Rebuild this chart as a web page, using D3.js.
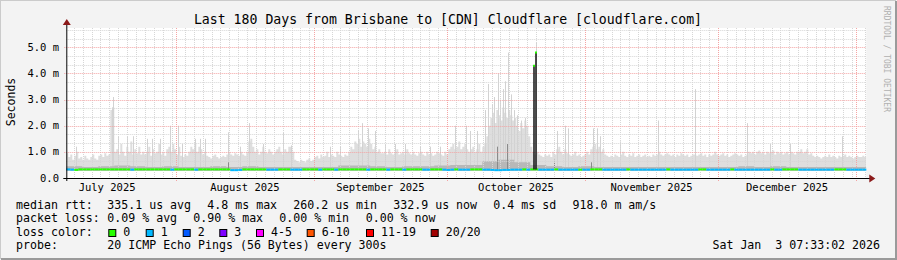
<!DOCTYPE html>
<html><head><meta charset="utf-8">
<script src="https://cdn.jsdelivr.net/npm/d3@7"></script>
<style>body{margin:0;background:#f3f3f3}text{font-family:"DejaVu Sans Mono",monospace;white-space:pre}</style>
</head><body><svg id="chart" width="897" height="260"></svg>
<script>
// ---------------- data ----------------
const title = "Last 180 Days from Brisbane to [CDN] Cloudflare [cloudflare.com]";
const startTime = "2025-07-07T07:33:02Z";   // Brisbane local time
const endTime   = "2026-01-03T07:33:02Z";
const yTicks = [0, 1, 2, 3, 4, 5];              // ms
const yTickLabels = ["0.0", "1.0 m", "2.0 m", "3.0 m", "4.0 m", "5.0 m"];
const yLabel = "Seconds";

// light smoke envelope (ms), 400 equal time bins
const smokeTop = [
 0.95,0.8,0.9,0.7,0.85,1.0,0.75,0.8,0.7,0.85,0.75,0.7,0.8,0.9,0.75,0.7,0.85,0.9,0.8,0.95,0.85,0.9,
 2.6,2.7,1.0,
 1.1,0.9,1.3,1.0,0.85,1.2,1.0,1.4,0.9,1.1,0.95,1.2,0.9,1.0,
 0.9,1.0,1.2,0.85,1.1,0.95,1.0,1.3,0.9,1.0,0.85,1.1,
 1.2,1.0,1.3,1.1,0.9,1.2,
 0.85,0.8,0.9,0.85,1.0,1.2,1.1,1.3,1.0,1.2,1.1,0.9,1.0,0.85,
 0.8,0.75,0.85,0.9,0.8,0.75,0.8,0.85,0.8,0.9,
 1.0,0.9,0.85,0.95,0.9,0.85,1.0,0.9,0.85,1.0,
 1.4,1.5,1.2,
 1.0,1.1,0.9,1.0,1.2,1.0,0.95,1.1,1.0,0.9,1.0,1.1,1.2,1.0,0.9,1.1,1.0,1.2,
 1.2,1.0,0.7,0.65,0.6,0.7,0.65,0.6,0.7,0.75,0.65,0.7,
 0.8,0.85,0.75,0.9,0.8,0.85,1.0,0.8,0.9,0.85,0.8,1.0,0.9,0.85,0.8,0.9,0.85,
 1.0,1.2,1.1,1.4,1.3,1.5,1.2,1.4,1.3,1.2,1.5,1.3,1.1,1.2,1.0,1.1,0.95,
 0.95,1.0,0.9,1.1,0.95,0.9,1.0,1.1,0.9,0.95,1.0,0.9,1.1,0.95,0.9,1.0,
 0.9,0.85,0.95,1.0,0.9,0.85,1.0,0.9,0.95,0.85,0.9,1.0,0.95,0.9,0.85,1.0,0.9,
 1.1,1.2,1.3,1.1,1.2,1.4,1.1,1.2,1.3,1.1,
 1.0,1.1,1.2,1.0,1.1,1.3,1.0,1.2,
 1.3,1.6,2.0,2.3,2.5,2.1,2.6,2.4,2.2,2.7,2.5,2.3,2.6,2.4,2.2,
 2.3,2.0,1.8,2.1,1.9,2.2,2.0,1.6,1.2,1.0,0.9,
 1.0,0.9,
 0.85,0.8,0.9,0.85,0.9,0.8,1.0,0.9,1.1,1.2,1.0,0.9,1.1,0.95,0.9,0.85,0.9,1.0,0.85,0.9,0.8,0.85,0.9,1.0,0.9,
 1.1,1.2,1.3,1.1,1.2,1.0,1.1,0.9,0.85,
 0.8,0.85,0.8,0.9,0.85,0.8,0.9,1.0,0.85,0.8,0.9,0.85,0.95,0.8,0.85,0.9,0.8,0.85,0.9,0.8,0.85,0.8,0.9,0.85,0.9,
 1.0,0.9,0.85,0.9,0.95,0.9,0.85,0.9,0.8,0.9,0.85,0.95,0.9,0.85,0.9,0.8,0.85,0.9,
 0.9,0.85,0.9,0.95,0.85,0.9,0.8,0.9,0.85,0.9,1.0,0.9,0.85,0.9,0.95,0.85,0.9,0.8,0.85,0.9,0.95,0.9,0.85,0.9,0.8,0.85,0.9,
 1.0,0.95,1.0,0.9,1.0,1.05,0.95,1.0,0.9,1.0,0.95,1.0,1.05,0.9,1.0,0.95,1.0,0.9,0.95,1.0,0.9,1.0,0.95,0.9,1.0,
 1.0,1.1,0.95,1.0,1.1,0.9,0.95,0.85,
 0.8,0.85,0.8,0.75,0.8,0.85,0.8,0.9,0.8,0.85,0.8,0.75,0.85,0.8,0.85,0.9,0.8,0.85,0.8,0.75,0.8,0.85,0.8,0.8,0.85,0.8
];
// medium smoke band top (ms), 50 equal time bins
const smokeMid = [
 0.45,0.42,0.45,0.48,0.45,0.42,0.45,0.42,0.42,0.45,
 0.42,0.45,0.42,0.42,0.42,0.42,0.42,0.48,0.48,0.45,
 0.42,0.45,0.45,0.48,0.5,0.5,0.65,0.7,0.6,0.5,
 0.45,0.42,0.45,0.42,0.42,0.42,0.42,0.42,0.42,0.42,
 0.42,0.42,0.45,0.42,0.45,0.42,0.42,0.42,0.42,0.42
];
// isolated thin smoke spikes: [days after start, ms]
const spikes = [
 [2.2,1.2],[10.3,2.7],[10.5,3.1],[11.6,1.6],[13.7,1.6],[15.0,1.6],[18.2,1.5],[19.3,1.5],
 [21.1,1.5],[23.3,2.0],[25.1,2.0],[26.0,1.3],[29.0,1.5],[30.1,1.5],[31.2,1.5],[36.4,1.75],
 [39.1,1.2],[41.1,2.1],[44.3,1.3],[48.8,1.75],[50.6,1.25],[59.3,1.2],[61.6,1.2],[65.6,1.8],
 [66.5,2.1],[67.9,1.9],[69.5,1.8],[71.7,1.3],[74.0,1.3],[76.2,1.3],[79.6,1.2],[81.9,1.2],
 [84.1,1.2],[87.5,2.0],[90.0,2.0],[90.9,1.8],[92.4,1.8],[94.2,2.6],[94.9,3.6],[95.8,2.8],
 [96.3,3.1],[97.1,4.0],[97.6,3.0],[98.2,3.4],[98.7,3.7],[99.4,4.8],[100.0,3.2],[100.8,2.6],
 [101.5,2.4],[102.4,2.2],[103.1,2.3],[105.7,5.2],[110.4,1.8],[112.2,2.0],[112.9,1.9],[118.5,1.9],
 [119.4,1.9],[120.1,1.6],[124.6,1.4],[133.1,2.2],[141.5,3.4],[153.2,2.1],[158.4,1.3],[162.8,1.3],
 [174.6,1.6]
];
// dense (dark) smoke streaks: [days after start, ms]
const darkStreaks = [[36.4, 0.6], [96.9, 1.2], [99.2, 1.3], [109.8, 0.7], [118.0, 0.6]];
// median rtt (ms), 200 equal time bins
const median = [
 0.33,0.32,0.31,0.33,0.33,0.33,0.33,0.33,0.33,0.33,
 0.33,0.33,0.33,0.33,0.33,0.33,0.32,0.33,0.33,0.33,
 0.33,0.33,0.33,0.33,0.33,0.33,0.32,0.33,0.33,0.33,
 0.33,0.33,0.32,0.33,0.33,0.33,0.33,0.33,0.33,0.33,
 0.33,0.30,0.30,0.31,0.33,0.33,0.33,0.33,0.33,0.33,
 0.32,0.32,0.32,0.33,0.33,0.33,0.32,0.32,0.32,0.33,
 0.33,0.33,0.33,0.32,0.33,0.33,0.33,0.32,0.33,0.33,
 0.33,0.33,0.33,0.33,0.33,0.32,0.33,0.33,0.33,0.33,
 0.32,0.33,0.33,0.33,0.32,0.33,0.33,0.33,0.33,0.32,
 0.32,0.33,0.33,0.33,0.32,0.31,0.32,0.33,0.32,0.32,
 0.32,0.33,0.33,0.33,0.32,0.32,0.31,0.30,0.30,0.31,
 0.31,0.32,0.32,0.32,0.33,0.32,0.33,0.33,0.32,0.32,
 0.32,0.32,0.33,0.32,0.32,0.32,0.32,0.32,0.32,0.32,
 0.32,0.33,0.33,0.33,0.32,0.32,0.32,0.32,0.32,0.32,
 0.33,0.32,0.32,0.32,0.32,0.32,0.32,0.32,0.32,0.32,
 0.33,0.32,0.32,0.32,0.32,0.32,0.32,0.32,0.33,0.33,
 0.32,0.32,0.32,0.32,0.32,0.32,0.33,0.32,0.32,0.32,
 0.32,0.32,0.32,0.32,0.32,0.32,0.33,0.32,0.32,0.33,
 0.33,0.33,0.33,0.32,0.32,0.32,0.32,0.32,0.32,0.32,
 0.32,0.32,0.33,0.33,0.33,0.32,0.32,0.32,0.32,0.32
];
// loss class per bin (index into lossColors)
const loss = [
 1,1,0,0,0,0,0,0,0,0, 0,0,0,0,0,0,1,0,0,0,
 0,0,0,0,0,0,1,0,0,0, 0,0,1,0,0,0,0,0,0,0,
 0,1,1,1,0,0,0,0,0,0, 1,1,1,0,0,0,1,1,1,0,
 0,0,0,1,0,0,0,1,0,0, 0,0,0,0,0,1,0,0,0,0,
 1,0,0,0,1,0,0,0,0,1, 1,0,0,0,1,1,1,0,1,1,
 1,0,0,0,1,1,1,1,1,1, 1,1,1,1,0,1,0,0,1,1,
 1,1,0,1,1,1,1,1,0,1, 1,0,0,0,1,1,1,1,1,1,
 0,1,1,1,1,1,1,1,1,1, 0,1,1,1,1,1,1,1,0,0,
 1,1,1,1,1,1,0,1,1,1, 1,1,1,1,1,1,0,1,1,0,
 0,0,0,1,1,1,1,1,1,1, 1,1,0,0,0,1,1,1,1,1
];
// big median excursion: [days after start, ms]
const medianSpike = [[105.2, 4.3], [105.6, 4.8]];

const lossLabels = ["0", "1", "2", "3", "4-5", "6-10", "11-19", "20/20"];
const lossColors = ["#26ff00", "#00b8ff", "#0059ff", "#7e00ff", "#ff00ff", "#ff5500", "#ff0000", "#a10000"];
const statLabels = ["median rtt:", "packet loss:", "loss color:", "probe:"];
const rttStats = ["335.1 us avg", "4.8 ms max", "260.2 us min", "332.9 us now", "0.4 ms sd", "918.0 m am/s"];
const lossStats = ["0.09 % avg", "0.90 % max", "0.00 % min", "0.00 % now"];
const probeText = "20 ICMP Echo Pings (56 Bytes) every 300s";
const stamp = "Sat Jan  3 07:33:02 2026";

// ---------------- drawing ----------------
const svg = d3.select("#chart");
const W = 897, H = 260;
const X0 = 66.3, X1 = 866.3, Y0 = 178, Y1 = 28;
const t0 = new Date(startTime), t1 = new Date(endTime);
const x = d3.scaleUtc().domain([t0, t1]).range([X0, X1]);
const y = d3.scaleLinear().domain([0, 5.74]).range([Y0, Y1]);
const DAY = 864e5;
const dayToDate = d => new Date(t0.getTime() + d * DAY);
const binDate = (i, n) => new Date(t0.getTime() + (t1 - t0) * i / n);

// background + frame
svg.append("rect").attr("width", W).attr("height", H).attr("fill", "#f3f3f3");
svg.append("path").attr("d", `M0,${H-1}V0H${W-1}`).attr("stroke", "#cbcbcb").attr("stroke-width", 2).attr("fill", "none");
svg.append("path").attr("d", `M1,${H-1}H${W-1}V1`).attr("stroke", "#9a9a9a").attr("stroke-width", 2).attr("fill", "none");
svg.append("rect").attr("x", X0).attr("y", Y1).attr("width", X1 - X0).attr("height", Y0 - Y1).attr("fill", "#fff");

// smoke
const clip = svg.append("defs").append("clipPath").attr("id", "pc");
clip.append("rect").attr("x", X0).attr("y", Y1 - 10).attr("width", X1 - X0).attr("height", Y0 - Y1 + 10);
const g = svg.append("g").attr("clip-path", "url(#pc)");
const area = (arr, lo) => d3.area().curve(d3.curveStepAfter)
  .x((d, i) => x(binDate(i, arr.length))).y0(y(lo)).y1(d => y(d));
const ext = arr => arr.concat([arr[arr.length - 1]]);
g.append("path").attr("d", area(smokeTop, 0.27)(ext(smokeTop))).attr("fill", "#dedede");
g.selectAll("line.sp").data(spikes).join("line")
  .attr("x1", d => Math.round(x(dayToDate(d[0]))) + 0.5).attr("x2", d => Math.round(x(dayToDate(d[0]))) + 0.5)
  .attr("y1", y(0.3)).attr("y2", d => y(d[1])).attr("stroke", "#d2d2d2").attr("stroke-width", 1);
g.append("path").attr("d", area(smokeMid, 0.28)(ext(smokeMid))).attr("fill", "#b8b8b8");
g.selectAll("line.dk").data(darkStreaks).join("line")
  .attr("x1", d => Math.round(x(dayToDate(d[0]))) + 0.5).attr("x2", d => Math.round(x(dayToDate(d[0]))) + 0.5)
  .attr("y1", y(0.3)).attr("y2", d => y(d[1])).attr("stroke", "#8a8a8a").attr("stroke-width", 1);

// grid
const gridG = svg.append("g");
const minorDays = d3.utcDay.every(2).range(d3.utcDay.floor(t0), t1).filter(d => d > t0);
minorDays.forEach(d => {
  const px = Math.round(x(d)) + 0.5;
  gridG.append("line").attr("x1", px).attr("x2", px).attr("y1", Y1).attr("y2", Y0)
    .attr("stroke", "#d6d6d6").attr("stroke-dasharray", "1,1");
});
for (let k = 1; k * 1 / 3 < 5.74; k++) {
  if (k % 3 === 0) continue;
  const py = Math.round(y(k / 3)) + 0.5;
  gridG.append("line").attr("x1", X0).attr("x2", X1).attr("y1", py).attr("y2", py)
    .attr("stroke", "#d6d6d6").attr("stroke-dasharray", "1,1");
}
const months = d3.utcMonth.range(t0, t1);
months.forEach(d => {
  const px = Math.round(x(d)) + 0.5;
  gridG.append("line").attr("x1", px).attr("x2", px).attr("y1", Y1).attr("y2", Y0 + 3)
    .attr("stroke", "#f4a4a4").attr("stroke-dasharray", "1,1");
});
yTicks.slice(1).forEach(v => {
  const py = Math.round(y(v)) + 0.5;
  gridG.append("line").attr("x1", X0 - 2).attr("x2", X1).attr("y1", py).attr("y2", py)
    .attr("stroke", "#f4a4a4").attr("stroke-dasharray", "1,1");
});

// median line
const mg = svg.append("g");
const n = median.length;
for (let i = 0; i < n; i++) {
  const xa = x(binDate(i, n)), xb = x(binDate(i + 1, n));
  mg.append("line").attr("x1", xa).attr("x2", xb).attr("y1", y(median[i])).attr("y2", y(median[i]))
    .attr("stroke", lossColors[loss[i]]).attr("stroke-width", 2);
}
medianSpike.forEach(d => {
  const px = Math.round(x(dayToDate(d[0])));
  mg.append("line").attr("x1", px).attr("x2", px).attr("y1", y(0.33)).attr("y2", y(d[1]))
    .attr("stroke", "#111").attr("stroke-width", 1.5);
  mg.append("line").attr("x1", px - 1).attr("x2", px + 1).attr("y1", y(d[1])).attr("y2", y(d[1]))
    .attr("stroke", lossColors[0]).attr("stroke-width", 2);
});

// axes
const ax = svg.append("g");
ax.append("line").attr("x1", X0 - 3).attr("x2", X1 + 4).attr("y1", Y0 + 0.5).attr("y2", Y0 + 0.5).attr("stroke", "#000");
ax.append("line").attr("x1", X0 + 0.5).attr("x2", X0 + 0.5).attr("y1", Y0 + 3).attr("y2", Y1 - 3).attr("stroke", "#000");
ax.append("path").attr("d", `M${X1+3},${Y0-3.5}L${X1+9},${Y0+0.5}L${X1+3},${Y0+4.5}Z`).attr("fill", "#8b1a1a");
ax.append("path").attr("d", `M${X0-3.5},${Y1-3}L${X0+0.5},${Y1-9}L${X0+4.5},${Y1-3}Z`).attr("fill", "#8b1a1a");
yTicks.forEach((v, i) => {
  ax.append("text").attr("x", 59).attr("y", y(v) + 3.6).attr("text-anchor", "end")
    .attr("font-size", "10.5px").attr("fill", "#000").text(yTickLabels[i]);
});
const labelMonths = d3.utcMonth.range(d3.utcMonth.floor(t0), t1);
labelMonths.forEach(d => {
  const mid = new Date((d.getTime() + d3.utcMonth.offset(d, 1).getTime()) / 2);
  const px = x(mid);
  if (px < X0 || px > X1) return;
  ax.append("text").attr("x", px).attr("y", 191).attr("text-anchor", "middle")
    .attr("font-size", "10.5px").text(d3.utcFormat("%B %Y")(d));
});
ax.append("text").attr("transform", "translate(15,102) rotate(-90)").attr("text-anchor", "middle")
  .attr("font-size", "11.5px").text(yLabel);
svg.append("text").attr("x", 448).attr("y", 24).attr("text-anchor", "middle")
  .attr("font-size", "13.2px").text(title);
svg.append("text").attr("transform", "translate(884,6) rotate(90)").attr("font-size", "8px")
  .attr("fill", "#b0b0b0").text("RRDTOOL / TOBI OETIKER");

// legend
const lg = svg.append("g").attr("font-size", "11.6px");
const rows = [208.5, 222, 235.5, 249];
statLabels.forEach((t, i) => lg.append("text").attr("x", 16).attr("y", rows[i]).text(t));
const rttX = [107.3, 207.3, 293.3, 393.3, 493.3, 572.5];
rttStats.forEach((t, i) => lg.append("text").attr("x", rttX[i]).attr("y", rows[0]).text(t));
const lossX = [107.3, 193.3, 279.3, 365.7];
lossStats.forEach((t, i) => lg.append("text").attr("x", lossX[i]).attr("y", rows[1]).text(t));
const boxX = [108.3, 145.7, 182.7, 219.3, 256, 306.7, 366, 430.7];
lossLabels.forEach((t, i) => {
  lg.append("rect").attr("x", boxX[i] + 0.5).attr("y", 229.5).attr("width", 7).attr("height", 7)
    .attr("fill", lossColors[i]).attr("stroke", "#000").attr("stroke-width", 1);
  lg.append("text").attr("x", boxX[i] + 15).attr("y", rows[2]).text(t);
});
lg.append("text").attr("x", 107.3).attr("y", rows[3]).text(probeText);
lg.append("text").attr("x", 880).attr("y", rows[3]).attr("text-anchor", "end").text(stamp);
</script></body></html>
